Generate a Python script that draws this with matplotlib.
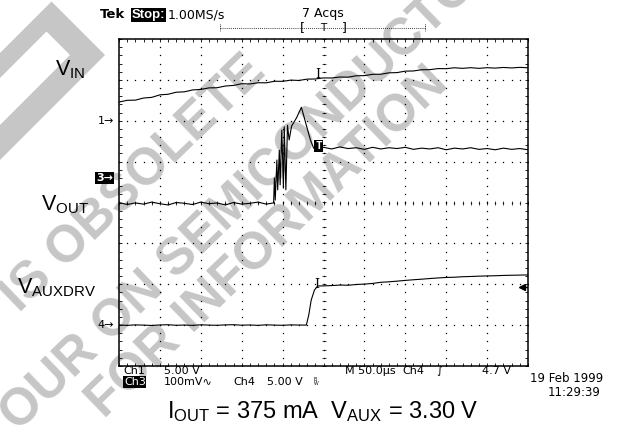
import matplotlib
matplotlib.use("Agg")
import numpy as np
import matplotlib.pyplot as plt
from matplotlib.ticker import MultipleLocator
from matplotlib.patches import Polygon

plt.rcParams['mathtext.fontset'] = 'custom'
plt.rcParams['mathtext.rm'] = 'Liberation Sans'
plt.rcParams['mathtext.it'] = 'Liberation Sans:italic'
plt.rcParams['mathtext.bf'] = 'Liberation Sans:bold'

# ---- scope settings ----
TIME_PER_DIV = 50.0          # us/div, trigger at screen centre
CH1_SCALE, CH1_POS = 5.0, 2.0    # V/div, ground marker (div)
CH3_SCALE, CH3_POS = 0.1, 0.6    # AC coupled
CH4_SCALE, CH4_POS = 5.0, -3.0
TRIG_LEVEL = 4.7             # V on Ch4

# ---- Ch1 : V_IN (V) ----
t_vin = [-250, -240, -230, -220, -210, -200, -190, -180, -170, -160, -150,
         -140, -130, -120, -110, -100, -90, -80, -70, -60, -50, -40, -30,
         -20, -10, 0, 10, 20, 30, 40, 50, 60, 70, 80, 90, 100, 110, 120, 130,
         140, 150, 160, 170, 180, 190, 200, 210, 220, 230, 240, 250]
v_in = [2.29, 2.50, 2.52, 2.78, 2.86, 3.17, 3.24, 3.49, 3.54, 3.77, 3.83,
        4.02, 4.04, 4.25, 4.32, 4.53, 4.50, 4.65, 4.64, 4.83, 4.82, 4.97, 4.93,
        5.09, 5.11, 5.24, 5.23, 5.35, 5.33, 5.50, 5.52, 5.68, 5.69, 5.86, 5.89,
        6.07, 6.09, 6.24, 6.25, 6.38, 6.37, 6.48, 6.41, 6.49, 6.41, 6.49, 6.44,
        6.52, 6.46, 6.53, 6.48]

# ---- Ch3 : V_OUT ripple (V, AC) ----
t_out = [-250, -240, -230, -220, -210, -200, -190, -180, -170, -160, -150,
         -140, -130, -120, -110, -100, -90, -80, -70, -61,
         -60, -59, -57, -56, -54, -53, -51, -49, -48, -46, -44, -42, -39,
         -33, -27, -21, -16, -12, -6,
         0, 10, 20, 30, 40, 50, 60, 70, 80, 90, 100, 110, 120, 130, 140,
         150, 160, 170, 180, 190, 200, 210, 220, 230, 240, 250]
v_out = [-0.060, -0.065, -0.061, -0.064, -0.059, -0.063, -0.066, -0.060,
         -0.062, -0.065, -0.059, -0.063, -0.061, -0.066, -0.060, -0.064,
         -0.062, -0.059, -0.064, -0.061,
         0.000, -0.054, 0.044, -0.029, 0.068, -0.017, 0.117, -0.025, 0.125,
         -0.029, 0.129, 0.093, 0.127,
         0.147, 0.173, 0.129, 0.093, 0.073, 0.070,
         0.075, 0.071, 0.076, 0.072, 0.074, 0.070, 0.075, 0.071, 0.074,
         0.072, 0.075, 0.070, 0.073, 0.071, 0.074, 0.069, 0.073, 0.071,
         0.074, 0.070, 0.072, 0.069, 0.073, 0.070, 0.072, 0.069]

# ---- Ch4 : V_AUXDRV (V) ----
t_aux = [-250, -240, -230, -220, -210, -200, -190, -180, -170, -160, -150,
         -140, -130, -120, -110, -100, -90, -80, -70, -60, -50, -40, -30,
         -21, -18, -15, -11, -7,
         0, 10, 20, 30, 40, 50, 60, 70, 80, 90, 100, 110, 120, 130, 140,
         150, 160, 170, 180, 190, 200, 210, 220, 230, 240, 250]
v_aux = [0.02, -0.03, 0.03, 0.00, -0.04, 0.02, 0.05, -0.02, 0.01, -0.03,
         0.04, 0.00, -0.02, 0.03, 0.05, -0.01, 0.02, -0.03, 0.04, 0.00,
         -0.02, 0.03, 0.01, 0.00,
         1.25, 3.08, 4.30, 4.79,
         4.80, 4.84, 4.90, 4.88, 4.97, 5.02, 5.10, 5.24, 5.30, 5.38, 5.47,
         5.55, 5.62, 5.70, 5.77, 5.83, 5.86, 5.92, 5.95, 5.99, 6.02, 6.04,
         6.08, 6.10, 6.12, 6.14]

# ---- figure ----
W, H = 622, 432
fig = plt.figure(figsize=(W / 100, H / 100), dpi=100)

def overlay(z):
    a = fig.add_axes([0, 0, 1, 1], zorder=z)
    a.set_xlim(0, W)
    a.set_ylim(H, 0)
    a.axis('off')
    return a

bg = overlay(0)
ax = fig.add_axes([119 / W, 1 - 366 / H, 409 / W, 327 / H], zorder=1)
ov = overlay(2)

# watermark (behind everything)
wm = '#c6c6c6'
logo = [(-20, 73), (51.5, 1.5), (105, 55), (-20, 180), (-20, 145),
        (70, 55), (46.5, 31.5), (-20, 98)]
bg.add_patch(Polygon(logo, closed=True, fc=wm, ec='none'))
wm_kw = dict(rotation=44, rotation_mode='anchor', ha='center', va='center',
             fontsize=37, fontweight='bold', color=wm, family='Liberation Sans')
for s, x, y in [("IS OBSOLETE", 134, 184),
                ("YOUR ON SEMICONDUCTOR", 240, 200),
                ("FOR INFORMATION", 268, 243)]:
    bg.text(x, y, s, **wm_kw)

# ---- scope screen ----
ax.patch.set_alpha(0)
ax.set_xlim(-5 * TIME_PER_DIV, 5 * TIME_PER_DIV)
ax.set_ylim(-4, 4)
for sp in ax.spines.values():
    sp.set_linewidth(1.1)
ax.xaxis.set_major_locator(MultipleLocator(TIME_PER_DIV))
ax.xaxis.set_minor_locator(MultipleLocator(TIME_PER_DIV / 5))
ax.yaxis.set_major_locator(MultipleLocator(1))
ax.yaxis.set_minor_locator(MultipleLocator(0.2))
ax.tick_params(which='both', direction='in', length=2.5, width=0.6,
               top=True, right=True, labelbottom=False, labelleft=False)

# dotted graticule
gx = np.arange(-200, 201, 50)
gy = np.arange(-3, 4, 1)
yd = np.arange(-4, 4.01, 0.2)
xd = np.arange(-250, 251, 10)
for x in gx:
    ax.plot(np.full_like(yd, x), yd, ls='none', marker='s', ms=0.9,
            mec='none', mfc='black')
for y in gy:
    ax.plot(xd, np.full_like(xd, y, dtype=float), ls='none', marker='s',
            ms=0.9, mec='none', mfc='black')
ax.plot(np.zeros_like(yd), yd, ls='none', marker='_', ms=3, mew=0.5, color='black')
ax.plot(xd, np.zeros_like(xd, dtype=float), ls='none', marker='|', ms=3,
        mew=0.5, color='black')

# traces
ax.plot(t_vin, np.array(v_in) / CH1_SCALE + CH1_POS, color='black', lw=0.8)
ax.plot(t_out, np.array(v_out) / CH3_SCALE + CH3_POS, color='black', lw=0.8)
ax.plot(t_aux, np.array(v_aux) / CH4_SCALE + CH4_POS, color='black', lw=0.8)

# trace markers at trigger point
ax.text(-7, 5.2 / CH1_SCALE + CH1_POS + 0.1, "I", family='DejaVu Serif',
        fontsize=9, ha='center', va='center')
ax.text(-6, 0.078 / CH3_SCALE + CH3_POS, "T", family='DejaVu Sans Mono',
        fontsize=8, fontweight='bold', color='white', ha='center',
        va='center', bbox=dict(boxstyle='square,pad=0.1', fc='black', ec='none'))
ax.text(-8, 4.8 / CH4_SCALE + CH4_POS + 0.03, "I", family='DejaVu Serif',
        fontsize=9, ha='center', va='center')

# trigger level arrow
ty = TRIG_LEVEL / CH4_SCALE + CH4_POS
ax.plot([244, 250], [ty, ty], color='black', lw=1)
ax.plot(243, ty, marker='<', ms=5, color='black')

# channel ground markers
ax.text(-0.012, CH1_POS, "1\u2192", transform=ax.get_yaxis_transform(),
        ha='right', va='center', fontsize=8)
ax.text(-0.014, CH3_POS, "3\u2192", transform=ax.get_yaxis_transform(),
        ha='right', va='center', fontsize=8, color='white', fontweight='bold',
        bbox=dict(boxstyle='square,pad=0.1', fc='black', ec='none'))
ax.text(-0.012, CH4_POS, "4\u2192", transform=ax.get_yaxis_transform(),
        ha='right', va='center', fontsize=8)

# ---- header ----
ov.text(100, 15, "Tek", fontsize=9.5, fontweight='bold', va='center')
ov.text(132, 15, "Stop:", fontsize=9.5, fontweight='bold', va='center',
        family='Liberation Sans', color='white',
        bbox=dict(boxstyle='square,pad=0.05', fc='black', ec='none'))
ov.text(168, 15, "1.00MS/s", fontsize=9, va='center')
ov.text(323, 14, "7 Acqs", fontsize=9, va='center', ha='center')
ov.plot([220, 425], [28, 28], color='black', lw=0.6, ls=(0, (1, 1.5)))
ov.plot([220, 220], [24, 31], color='black', lw=0.6, ls=(0, (1, 1)))
ov.plot([425, 425], [24, 31], color='black', lw=0.6, ls=(0, (1, 1)))
ov.text(302, 28, "[", fontsize=9, va='center', ha='center')
ov.text(323, 28, "T", fontsize=7.5, va='center', ha='center')
ov.text(344, 28, "]", fontsize=9, va='center', ha='center')

# ---- footer (scope readout) ----
fs = 8
ov.text(123, 371, "Ch1", fontsize=fs, va='center')
ov.text(164, 371, "5.00 V", fontsize=fs, va='center')
ov.text(345, 371, "M 50.0\u00b5s", fontsize=fs, va='center')
ov.text(402, 371, "Ch4", fontsize=fs, va='center')
ov.text(436, 371, "\u222b", fontsize=fs, va='center')
ov.text(511, 371, "4.7 V", fontsize=fs, va='center', ha='right')
ov.text(124, 382, "Ch3", fontsize=fs, va='center', color='white',
        bbox=dict(boxstyle='square,pad=0.05', fc='black', ec='none'))
ov.text(164, 382, "100mV\u223f", fontsize=fs, va='center')
ov.text(233, 382, "Ch4", fontsize=fs, va='center')
ov.text(267, 382, "5.00 V", fontsize=fs, va='center')
ov.text(313, 382, r"$^{\rm B}_{\rm W}$", fontsize=5, va='center')
ov.text(530, 378, "19 Feb 1999", fontsize=8.5, va='center')
ov.text(548, 393, "11:29:39", fontsize=8.5, va='center')

# ---- signal labels ----
lbl = dict(fontsize=15.5, family='Liberation Sans', ha='center', va='center')
ov.text(70, 70, r"$\mathrm{V_{IN}}$", **lbl)
ov.text(65, 205, r"$\mathrm{V_{OUT}}$", **lbl)
ov.text(57, 288, r"$\mathrm{V_{AUXDRV}}$", **lbl)

ov.text(323, 412, r"$\mathrm{I_{OUT}}$ = 375 mA  $\mathrm{V_{AUX}}$ = 3.30 V",
        fontsize=17, family='Liberation Sans', ha='center', va='center')

fig.savefig("out.png", dpi=100)
